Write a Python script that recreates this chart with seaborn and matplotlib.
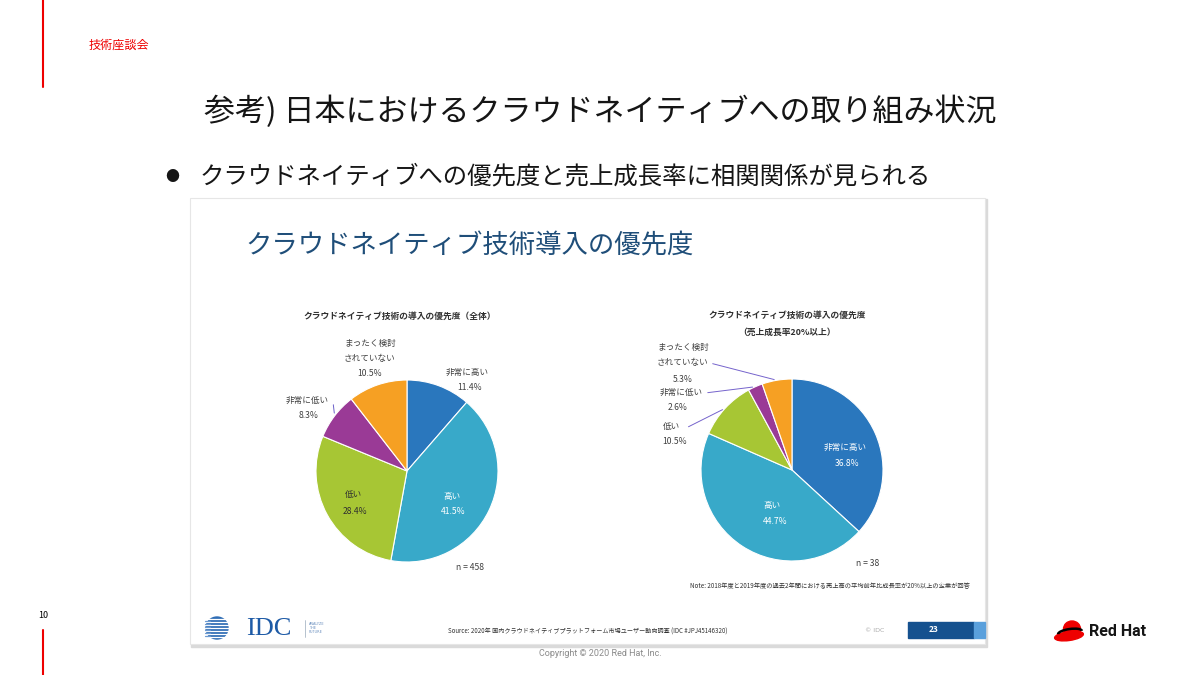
import numpy as np
import matplotlib
matplotlib.use("Agg")
import matplotlib.pyplot as plt
from matplotlib.patches import Rectangle, Ellipse, Circle, Arc
import seaborn as sns

# データ
categories = ["非常に高い", "高い", "低い", "非常に低い", "まったく検討\nされていない"]
all_values = [11.4, 41.5, 28.4, 8.3, 10.5]      # 全体 n=458
growth_values = [36.8, 44.7, 10.5, 2.6, 5.3]    # 売上成長率20%以上 n=38
n_all = 458
n_growth = 38
pie_colors = ["#2a77bd", "#38a9c9", "#a7c634", "#9a3a96", "#f6a023"]

sns.set_theme(style="white")
plt.rcParams['font.family'] = ['Noto Sans CJK JP', 'DejaVu Sans']

W, H = 1200, 675
fig = plt.figure(figsize=(12, 6.75), dpi=100)
fig.patch.set_facecolor("white")

bg = fig.add_axes([0, 0, 1, 1])
bg.set_xlim(0, W)
bg.set_ylim(H, 0)
bg.axis("off")

# スライドの枠
bg.plot([43, 43], [0, 87], color="#ee0000", lw=1.5)
bg.plot([43, 43], [630, 675], color="#ee0000", lw=1.5)
bg.text(89, 45, "技術座談会", color="#ee0000", fontsize=8.7, va="center")
bg.text(38, 615, "10", color="black", fontsize=6.5, va="center")

bg.text(600, 112, "参考) 日本におけるクラウドネイティブへの取り組み状況",
        fontsize=22.3, ha="center", va="center", color="#151515")
bg.text(165, 177, "●", fontsize=10, va="center", color="#151515")
bg.text(200, 176, "クラウドネイティブへの優先度と売上成長率に相関関係が見られる",
        fontsize=17.6, va="center", color="#151515")

# 埋め込み画像の枠
bg.add_patch(Rectangle((191, 199), 796, 448, color="#dadada", zorder=1))
bg.add_patch(Rectangle((190, 198), 795, 446, facecolor="white",
                       edgecolor="#e6e6e6", lw=0.8, zorder=2))

bg.text(245, 246, "クラウドネイティブ技術導入の優先度", fontsize=19,
        color="#1f4e79", va="center", zorder=3)

lab = dict(fontsize=6.2, color="#404040", ha="center", va="center", zorder=3)
ttl = dict(fontsize=6.3, color="#303030", ha="center", va="center",
           fontweight="bold", zorder=3)

bg.text(400, 316, "クラウドネイティブ技術の導入の優先度（全体）", **ttl)
bg.text(787, 315, "クラウドネイティブ技術の導入の優先度", **ttl)
bg.text(787, 332, "（売上成長率20%以上）", **ttl)


def add_pie(cx, cy, r, values):
    ax = fig.add_axes([(cx - r) / W, 1 - (cy + r) / H, 2 * r / W, 2 * r / H])
    ax.pie(values, colors=pie_colors, startangle=90, counterclock=False,
           wedgeprops=dict(edgecolor="white", linewidth=0.8))
    ax.set_xlim(-1, 1)
    ax.set_ylim(-1, 1)
    ax.set_zorder(5)
    ax.cx, ax.cy, ax.r = cx, cy, r
    return ax


def inner_text(ax, x, y, s, color):
    # 円グラフ上の文字（ピクセル位置を円のデータ座標に換算）
    ax.text((x - ax.cx) / ax.r, (ax.cy - y) / ax.r, s, fontsize=6.2,
            color=color, ha="center", va="center", zorder=6)


def mid_point(values, i, rr=1.0):
    cum = np.cumsum([0] + list(values))
    ang = np.deg2rad(90 - 3.6 * (cum[i] + cum[i + 1]) / 2 * 100 / sum(values))
    return rr * np.cos(ang), rr * np.sin(ang)


ax1 = add_pie(407, 471, 91, all_values)
ax2 = add_pie(792, 470, 91, growth_values)

# 左の円グラフのラベル
bg.text(467, 372, categories[0], **lab)
bg.text(470, 388, f"{all_values[0]}%", **lab)
inner_text(ax1, 452, 497, categories[1], "white")
inner_text(ax1, 453, 512, f"{all_values[1]}%", "white")
inner_text(ax1, 353, 494, categories[2], "#303030")
inner_text(ax1, 355, 511, f"{all_values[2]}%", "#303030")
bg.text(307, 400, categories[3], **lab)
bg.text(309, 416, f"{all_values[3]}%", **lab)
bg.text(370, 343, "まったく検討", **lab)
bg.text(370, 358, "されていない", **lab)
bg.text(370, 374, f"{all_values[4]}%", **lab)
bg.text(470, 567, f"n = {n_all}", **lab)
ax1.annotate("", xy=mid_point(all_values, 3), xytext=(333, H - 402),
             textcoords="figure pixels",
             arrowprops=dict(arrowstyle="-", color="#6b5fc9", lw=0.7))

# 右の円グラフのラベル
inner_text(ax2, 845, 447, categories[0], "white")
inner_text(ax2, 847, 463, f"{growth_values[0]}%", "white")
inner_text(ax2, 772, 505, categories[1], "white")
inner_text(ax2, 775, 521, f"{growth_values[1]}%", "white")
bg.text(683, 347, "まったく検討", **lab)
bg.text(683, 363, "されていない", **lab)
bg.text(683, 379, f"{growth_values[4]}%", **lab)
bg.text(681, 392, categories[3], **lab)
bg.text(678, 408, f"{growth_values[3]}%", **lab)
bg.text(671, 427, categories[2], **lab)
bg.text(675, 442, f"{growth_values[2]}%", **lab)
bg.text(868, 563, f"n = {n_growth}", **lab)
for i, start in [(4, (710, H - 363)), (3, (705, H - 393)), (2, (686, H - 428))]:
    ax2.annotate("", xy=mid_point(growth_values, i), xytext=start,
                 textcoords="figure pixels",
                 arrowprops=dict(arrowstyle="-", color="#7563cc", lw=0.7))

bg.text(970, 586, "Note: 2018年度と2019年度の過去2年間における売上高の平均前年比成長率が20%以上の企業が回答",
        fontsize=4.5, ha="right", va="center", color="#303030", zorder=3)

# フッター (IDC)
bg.add_patch(Circle((217, 628), 11, color="#2f6db5", zorder=3))
for yy in np.arange(619, 639, 3):
    bg.plot([205, 229], [yy, yy], color="white", lw=0.9, zorder=4)
for yy in np.arange(620.5, 638, 3):
    bg.plot([205, 210], [yy, yy], color="#6e9bd1", lw=0.9, zorder=4)
bg.text(246, 629, "IDC", fontsize=19, family="Liberation Serif",
        color="#1d5aa6", va="center", zorder=3)
bg.plot([305, 305], [620, 637], color="#9ab", lw=0.5, zorder=3)
bg.text(309, 628, "ANALYZE\nTHE\nFUTURE", fontsize=2.5, color="#6a8fbf",
        va="center", linespacing=1.1, zorder=3, family="DejaVu Sans")
bg.text(448, 632, "Source: 2020年 国内クラウドネイティブプラットフォーム市場ユーザー動向調査 (IDC #JPJ45146320)",
        fontsize=4.4, va="center", color="#303030", zorder=3)
bg.text(875, 630, "© IDC", fontsize=4.5, color="#aaaaaa", ha="center",
        va="center", zorder=3, family="DejaVu Sans")
bg.add_patch(Rectangle((908, 622), 66, 16, color="#15518f", zorder=3))
bg.add_patch(Rectangle((974, 622), 11, 16, color="#5aa0dc", zorder=3))
bg.text(934, 630, "23", fontsize=6, color="white", ha="center", va="center",
        zorder=4, fontweight="bold")

bg.text(600, 654, "Copyright © 2020 Red Hat, Inc.", fontsize=6.5,
        color="#8a8a8a", ha="center", va="center", family="Roboto")

# Red Hat ロゴ
bg.add_patch(Ellipse((1069, 636), 29, 9, angle=-8, color="#ee0000", zorder=3))
bg.add_patch(Ellipse((1072, 629), 17, 16, color="#ee0000", zorder=3))
bg.add_patch(Arc((1070, 632.5), 24, 7, angle=-8, theta1=180, theta2=360,
                 color="black", lw=1.8, zorder=4))
bg.text(1089, 632, "Red Hat", fontsize=11.5, fontweight="bold",
        family="Roboto", color="#151515", va="center")

fig.savefig("out.png", dpi=100)
